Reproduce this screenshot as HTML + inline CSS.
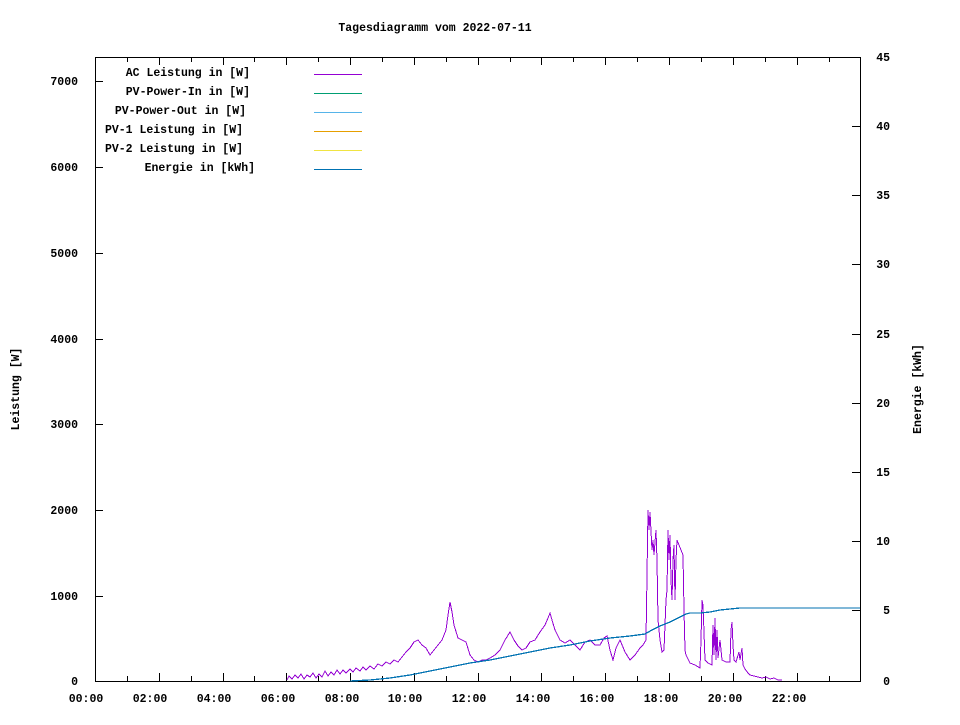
<!DOCTYPE html>
<html><head><meta charset="utf-8"><style>
body{margin:0;background:#fff}
svg text{font-family:"Liberation Mono","DejaVu Sans Mono",monospace;font-size:11.5px;font-weight:bold;fill:#000}
svg path,svg rect,svg polyline{shape-rendering:crispEdges}
</style></head><body>
<svg width="960" height="720" xmlns="http://www.w3.org/2000/svg">
<rect width="960" height="720" fill="#fff"/>
<text x="435" y="31" text-anchor="middle">Tagesdiagramm vom 2022-07-11</text>
<rect x="95.5" y="57.5" width="765" height="624" fill="none" stroke="#000" stroke-width="1"/>
<g stroke="#000" stroke-width="1">
<path d="M95 596.5h8M95 510.5h8M95 424.5h8M95 339.5h8M95 253.5h8M95 167.5h8M95 81.5h8"/>
<path d="M860 610.5h-8M860 541.5h-8M860 472.5h-8M860 403.5h-8M860 334.5h-8M860 264.5h-8M860 195.5h-8M860 126.5h-8"/>
<path d="M127.5 681v-5M159.5 681v-8M191.5 681v-5M223.5 681v-8M254.5 681v-5M286.5 681v-8M318.5 681v-5M350.5 681v-8M382.5 681v-5M414.5 681v-8M446.5 681v-5M478.5 681v-8M510.5 681v-5M541.5 681v-8M573.5 681v-5M605.5 681v-8M637.5 681v-5M669.5 681v-8M701.5 681v-5M733.5 681v-8M765.5 681v-5M797.5 681v-8M829.5 681v-5"/>
<path d="M127.5 57v5M159.5 57v8M191.5 57v5M223.5 57v8M254.5 57v5M286.5 57v8M318.5 57v5M350.5 57v8M382.5 57v5M414.5 57v8M446.5 57v5M478.5 57v8M510.5 57v5M541.5 57v8M573.5 57v5M605.5 57v8M637.5 57v5M669.5 57v8M701.5 57v5M733.5 57v8M765.5 57v5M797.5 57v8M829.5 57v5"/>
</g>
<g text-anchor="end">
<text x="78" y="685">0</text><text x="78" y="600">1000</text><text x="78" y="514">2000</text><text x="78" y="428">3000</text><text x="78" y="343">4000</text><text x="78" y="257">5000</text><text x="78" y="171">6000</text><text x="78" y="85">7000</text>
</g>
<g text-anchor="end">
<text x="890" y="685">0</text><text x="890" y="614">5</text><text x="890" y="545">10</text><text x="890" y="476">15</text><text x="890" y="407">20</text><text x="890" y="338">25</text><text x="890" y="268">30</text><text x="890" y="199">35</text><text x="890" y="130">40</text><text x="890" y="61">45</text>
</g>
<g text-anchor="middle">
<text x="86" y="702">00:00</text><text x="150" y="702">02:00</text><text x="214" y="702">04:00</text><text x="278" y="702">06:00</text><text x="342" y="702">08:00</text><text x="405" y="702">10:00</text><text x="469" y="702">12:00</text><text x="533" y="702">14:00</text><text x="597" y="702">16:00</text><text x="661" y="702">18:00</text><text x="725" y="702">20:00</text><text x="789" y="702">22:00</text>
</g>
<text transform="translate(19,389) rotate(-90)" text-anchor="middle">Leistung [W]</text>
<text transform="translate(921,389) rotate(-90)" text-anchor="middle">Energie [kWh]</text>
<g text-anchor="end">
<text x="250" y="76">AC Leistung in [W]</text>
<text x="250" y="95">PV-Power-In in [W]</text>
<text x="246" y="114">PV-Power-Out in [W]</text>
<text x="243" y="133">PV-1 Leistung in [W]</text>
<text x="243" y="152">PV-2 Leistung in [W]</text>
<text x="255" y="171">Energie in [kWh]</text>
</g>
<path d="M314 74.5h48" stroke="#9400d3"/>
<path d="M314 93.5h48" stroke="#009e73"/>
<path d="M314 112.5h48" stroke="#56b4e9"/>
<path d="M314 131.5h48" stroke="#e69f00"/>
<path d="M314 150.5h48" stroke="#f0e442"/>
<path d="M314 169.5h48" stroke="#0072b2"/>
<polyline fill="none" stroke="#9400d3" stroke-width="1" points="287,680 289,676 292,679 295,675 298,678 301,674 304,679 307,675 310,677 313,673 316,678 319,674 322,677 325,671 328,676 331,672 334,675 337,670 340,674 343,670 346,673 350,669 353,672 356,668 360,671 363,667 366,670 370,666 374,669 378,664 382,666 386,662 390,664 394,660 398,662 402,657 406,652 410,648 414,642 418,640 422,645 426,648 430,655 434,650 438,645 442,640 446,630 448,615 450,602 452,612 454,625 458,638 462,640 466,642 470,655 474,660 478,662 482,660 486,660 490,658 495,655 500,650 505,640 510,632 514,640 518,646 522,650 526,648 530,642 535,640 540,632 545,625 548,618 550,613 552,620 555,630 560,640 565,643 570,640 575,645 580,650 585,642 590,640 595,645 600,645 604,638 607,636 610,650 613,660 616,648 620,640 625,652 630,660 635,655 640,648 643,645 646,640 648,510 649,530 650,512 652,550 653,540 654,555 656,530 657,560 658,620 660,640 662,652 664,650 666,600 667,590 668,530 669,560 670,535 671,580 672,600 673,560 674,545 675,600 676,560 677,540 679,545 681,550 683,555 684,610 685,650 686,655 690,663 695,665 700,668 701,640 702,600 703,605 705,660 708,663 712,665 713,625 714,655 715,618 716,660 717,630 718,658 720,640 722,660 726,662 730,662 731,630 732,622 733,645 734,660 736,662 739,652 740,660 742,648 743,665 745,669 748,673 750,675 754,676 758,677 762,678 766,677 770,679 774,678 778,680 782,680"/>
<polyline fill="none" stroke="#0072b2" stroke-width="1.3" points="350,681 370,680 390,678 410,675 430,671 450,667 470,663 490,660 510,656 530,652 550,648 570,645 590,641 610,638 630,636 645,634 652,630 660,626 670,622 680,617 686,614 690,613 700,613 710,612 720,610 730,609 740,608 800,608 860,608"/>
</svg>
</body></html>
